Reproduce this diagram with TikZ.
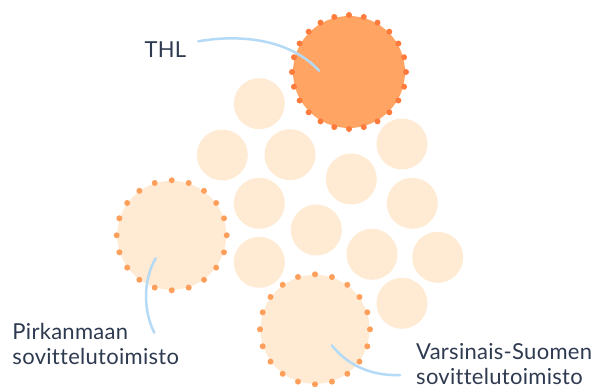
\documentclass[tikz,border=0pt]{standalone}
\usepackage{fontspec}
\setmainfont{Lato}[LetterSpace=1.3, Ligatures=CommonOff]
\definecolor{thlorange}{HTML}{FFA463}
\definecolor{thldot}{HTML}{FF7B3C}
\definecolor{peach}{HTML}{FFEAD3}
\definecolor{peachdot}{HTML}{FF9F5C}
\definecolor{pointerblue}{HTML}{B5DAF6}
\definecolor{labeltext}{HTML}{2E3A50}

\begin{document}
\begin{tikzpicture}[x=1pt,y=-1pt,
  member/.style={circle, fill=peach, minimum size=51pt, inner sep=0pt},
  office/.style={circle, fill=peach, minimum size=109pt, inner sep=0pt},
  nametext/.style={text=labeltext, inner sep=0pt, align=left, font=\fontsize{22}{25}\selectfont},
  pointer/.style={draw=pointerblue, line width=2.5pt, line cap=round}]
\useasboundingbox (0,0) rectangle (592,386);
\node (m1) at (259.3,103.7) [member] {};
\node (m2) at (222.3,155) [member] {};
\node (m3) at (290,154.7) [member] {};
\node (m4) at (351.3,179) [member] {};
\node (m5) at (402,144) [member] {};
\node (m6) at (259.3,203.3) [member] {};
\node (m7) at (412.3,203.3) [member] {};
\node (m8) at (316.3,230) [member] {};
\node (m9) at (259.3,262.3) [member] {};
\node (m10) at (372,254.3) [member] {};
\node (m11) at (437.7,257.3) [member] {};
\node (m12) at (402,303.3) [member] {};
\node (thl) at (349,72) [office, fill=thlorange, minimum size=112pt] {};
\node (pirk) at (171.7,235.3) [office] {};
\node (vs) at (315,329.3) [office] {};
\foreach \a in {0,15,...,345}
  \fill[thldot] (thl.center) ++(\a:57pt) circle (3pt);
\foreach \a in {0,18,...,342} {
  \fill[peachdot] (pirk.center) ++(\a:55pt) circle (3pt);
  \fill[peachdot] (vs.center) ++(\a:55pt) circle (3pt);
}
\node (thltext) at (144.3,57.7) [nametext, anchor=base west] {THL};
\node (pirktext) at (12.3,364.3) [nametext, anchor=base west] {Pirkanmaan\\sovittelutoimisto};
\node (vstext) at (416,384) [nametext, anchor=base west] {Varsinais-Suomen\\sovittelutoimisto};
\coordinate (thlstart) at (198.3,41.3);
\coordinate (thlend) at (319,70.7);
\coordinate (pirkstart) at (154.3,332.7);
\coordinate (pirkend) at (155.7,258.3);
\coordinate (vsstart) at (400,375);
\coordinate (vsend) at (331.7,345.3);
\draw[pointer] (thlstart) .. controls (240,34) and (290,39) .. (thlend);
\draw[pointer] (pirkstart) .. controls (143,310) and (143,280) .. (pirkend);
\draw[pointer] (vsstart) .. controls (375,376) and (350,368) .. (vsend);
\end{tikzpicture}
\end{document}
